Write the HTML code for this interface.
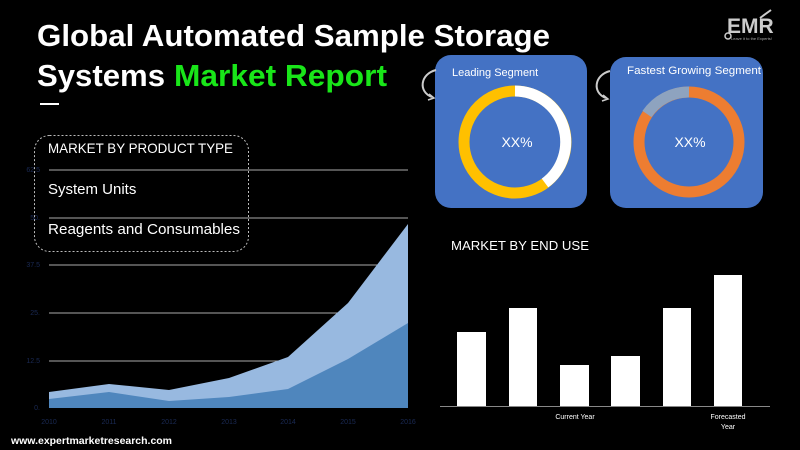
<!DOCTYPE html>
<html><head><meta charset="utf-8"><style>
html,body{margin:0;padding:0;background:#000;}
body{width:800px;height:450px;overflow:hidden;position:relative;font-family:"Liberation Sans",sans-serif;}
</style></head><body>
<svg width="800" height="450" viewBox="0 0 800 450" xmlns="http://www.w3.org/2000/svg" style="position:absolute;left:0;top:0">
<rect width="800" height="450" fill="#000"/>
<!-- title -->
<text x="37" y="46" font-family="Liberation Sans" font-weight="bold" font-size="31" fill="#fff" textLength="513" lengthAdjust="spacingAndGlyphs">Global Automated Sample Storage</text>
<text x="37" y="86" font-family="Liberation Sans" font-weight="bold" font-size="31" fill="#fff" textLength="128" lengthAdjust="spacingAndGlyphs">Systems</text>
<text x="174" y="86" font-family="Liberation Sans" font-weight="bold" font-size="31" fill="#19e619" textLength="213" lengthAdjust="spacingAndGlyphs">Market Report</text>
<rect x="40" y="103" width="19" height="2" fill="#fff"/>
<!-- EMR logo -->
<text x="727" y="33" font-family="Liberation Sans" font-weight="bold" font-size="21" fill="#ccc">EMR</text>
<circle cx="728" cy="36" r="3" fill="none" stroke="#ccc" stroke-width="1.5"/>
<path d="M760 18 L771 10" stroke="#ccc" stroke-width="2"/>
<text x="731" y="40" font-family="Liberation Sans" font-size="4" fill="#aaa">Leave it to the Experts!</text>
<!-- area chart gridlines -->
<g stroke="#aaa" stroke-width="1">
<line x1="49" y1="170" x2="408" y2="170"/>
<line x1="49" y1="218" x2="408" y2="218"/>
<line x1="49" y1="265" x2="408" y2="265"/>
<line x1="49" y1="313" x2="408" y2="313"/>
<line x1="49" y1="361" x2="408" y2="361"/>
</g>
<g font-size="7" fill="#1a2a55" font-family="Liberation Sans" text-anchor="end">
<text x="40" y="172">62.5</text><text x="40" y="220">50.</text><text x="40" y="267">37.5</text><text x="40" y="315">25.</text><text x="40" y="363">12.5</text><text x="40" y="410">0.</text>
</g>
<polygon points="49,392 109,384 169,390 229,378 288,357 348,303 408,224 408,408 49,408" fill="#98b9e0"/>
<polygon points="49,399 109,392 169,401 229,397 288,389 348,359 408,323 408,408 49,408" fill="#4f86bd"/>
<g font-size="7" fill="#1a2a55" font-family="Liberation Sans" text-anchor="middle">
<text x="49" y="424">2010</text><text x="109" y="424">2011</text><text x="169" y="424">2012</text><text x="229" y="424">2013</text><text x="288" y="424">2014</text><text x="348" y="424">2015</text><text x="408" y="424">2016</text>
</g>
<!-- dashed box -->
<rect x="34.5" y="135.5" width="214" height="116" rx="15" fill="none" stroke="#bbb" stroke-width="1" stroke-dasharray="2,2"/>
<text x="48" y="153" font-size="14" fill="#fff" font-family="Liberation Sans" textLength="185" lengthAdjust="spacingAndGlyphs">MARKET  BY PRODUCT TYPE</text>
<text x="48" y="194" font-size="15" fill="#fff" font-family="Liberation Sans">System Units</text>
<text x="48" y="234" font-size="15" fill="#fff" font-family="Liberation Sans" textLength="192" lengthAdjust="spacingAndGlyphs">Reagents and Consumables</text>
<text x="11" y="444" font-size="10" font-weight="bold" fill="#fff" font-family="Liberation Sans" textLength="161" lengthAdjust="spacingAndGlyphs">www.expertmarketresearch.com</text>
<!-- cards -->
<rect x="435" y="55" width="152" height="153" rx="16" fill="#4472c4"/>
<text x="452" y="76" font-size="11" fill="#fff" font-family="Liberation Sans">Leading Segment</text>
<circle cx="515" cy="142" r="51" fill="none" stroke="#ffc000" stroke-width="11"/>
<path d="M515 91 A51 51 0 0 1 545 183" fill="none" stroke="#fff" stroke-width="11"/>
<text x="517" y="147" font-size="14" fill="#fff" font-family="Liberation Sans" text-anchor="middle">XX%</text>
<rect x="610" y="57" width="153" height="151" rx="16" fill="#4472c4"/>
<text x="627" y="74" font-size="11" fill="#fff" font-family="Liberation Sans" textLength="134" lengthAdjust="spacingAndGlyphs">Fastest Growing Segment</text>
<circle cx="689" cy="142" r="50" fill="none" stroke="#ed7d31" stroke-width="11"/>
<path d="M647 114 A50 50 0 0 1 689 92" fill="none" stroke="#8ea3bf" stroke-width="11"/>
<text x="690" y="147" font-size="14" fill="#fff" font-family="Liberation Sans" text-anchor="middle">XX%</text>
<!-- curved arrows -->
<path d="M436 70 C420 74 418 92 432 97" fill="none" stroke="#ccc" stroke-width="2"/>
<path d="M429 94 L434 98 L428 100" fill="none" stroke="#ccc" stroke-width="1.5"/>
<path d="M610 71 C594 75 592 93 606 98" fill="none" stroke="#ccc" stroke-width="2"/>
<path d="M603 95 L608 99 L602 101" fill="none" stroke="#ccc" stroke-width="1.5"/>
<!-- bar chart -->
<text x="451" y="250" font-size="13" fill="#fff" font-family="Liberation Sans" textLength="138" lengthAdjust="spacingAndGlyphs">MARKET BY END USE</text>
<line x1="440" y1="406.5" x2="770" y2="406.5" stroke="#888" stroke-width="1"/>
<g fill="#fff">
<rect x="457" y="332" width="29" height="74"/>
<rect x="509" y="308" width="28" height="98"/>
<rect x="560" y="365" width="29" height="41"/>
<rect x="611" y="356" width="29" height="50"/>
<rect x="663" y="308" width="28" height="98"/>
<rect x="714" y="275" width="28" height="131"/>
</g>
<g font-size="7" fill="#fff" font-family="Liberation Sans" text-anchor="middle">
<text x="575" y="419">Current Year</text>
<text x="728" y="419">Forecasted</text><text x="728" y="429">Year</text>
</g>
</svg>
</body></html>
